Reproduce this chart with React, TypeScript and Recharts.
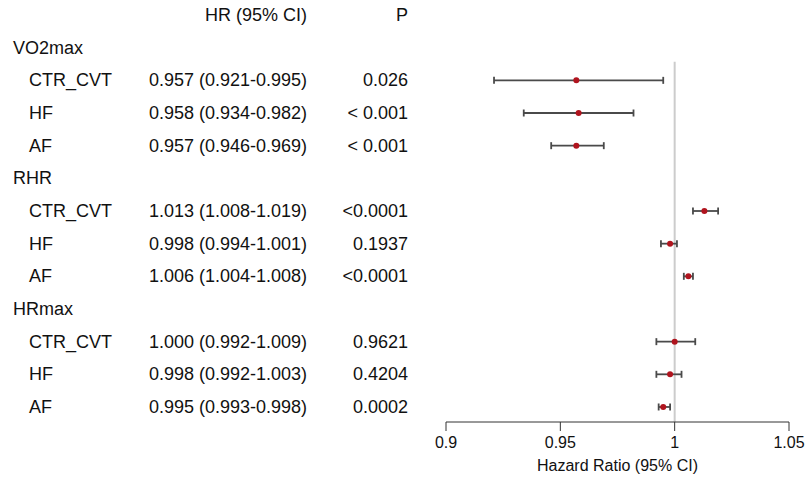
import React from "react"
import { ScatterChart, Scatter, XAxis, YAxis, ErrorBar, ReferenceLine } from "recharts"

const groups = ["VO2max", "RHR", "HRmax"]
const subgroups = ["CTR_CVT", "HF", "AF"]
const hrValues = [0.957, 0.958, 0.957, 1.013, 0.998, 1.006, 1.0, 0.998, 0.995]
const lowerCI = [0.921, 0.934, 0.946, 1.008, 0.994, 1.004, 0.992, 0.992, 0.993]
const upperCI = [0.995, 0.982, 0.969, 1.019, 1.001, 1.008, 1.009, 1.003, 0.998]
const pValues = ["0.026", "< 0.001", "< 0.001", "<0.0001", "0.1937", "<0.0001", "0.9621", "0.4204", "0.0002"]
const xTicks = [0.9, 0.95, 1, 1.05]

const FONT = "'Liberation Sans', Arial, sans-serif"

type Row = { row: number; label: string; indent: boolean; hrText: string; p: string }

// header row first, then each group followed by its three subgroups
const rows: Row[] = [{ row: 0, label: "", indent: false, hrText: "HR (95% CI)", p: "P" }]
const points: { row: number; hr: number; err: [number, number] }[] = []
groups.forEach((g, gi) => {
  rows.push({ row: rows.length, label: g, indent: false, hrText: "", p: "" })
  subgroups.forEach((s, si) => {
    const i = gi * 3 + si
    const r = rows.length
    rows.push({
      row: r,
      label: s,
      indent: true,
      hrText: `${hrValues[i].toFixed(3)} (${lowerCI[i].toFixed(3)}-${upperCI[i].toFixed(3)})`,
      p: pValues[i],
    })
    points.push({ row: r, hr: hrValues[i], err: [hrValues[i] - lowerCI[i], upperCI[i] - hrValues[i]] })
  })
})

const rowTick = (props: any) => {
  const { y, payload } = props
  const r = rows[payload.value]
  if (!r) return <g />
  const common = { y, dominantBaseline: "central", fontSize: 18, fontFamily: FONT, fill: "#111" } as any
  return (
    <g>
      {r.label && (
        <text {...common} x={r.indent ? 29 : 13} textAnchor="start">
          {r.label}
        </text>
      )}
      {r.hrText && (
        <text {...common} x={307} textAnchor="end">
          {r.hrText}
        </text>
      )}
      {r.p && (
        <text {...common} x={408} textAnchor="end">
          {r.p}
        </text>
      )}
    </g>
  )
}

export default function App() {
  return (
    <div style={{ position: "absolute", left: 0, top: 0, width: 810, height: 477, background: "#fff" }}>
      <ScatterChart width={810} height={477} margin={{ top: 0, right: 21, bottom: 0, left: 0 }}>
        <XAxis
          type="number"
          dataKey="hr"
          domain={[0.9, 1.05]}
          ticks={xTicks}
          allowDataOverflow
          height={55}
          tickSize={9}
          tickMargin={6}
          stroke="#333"
          tick={{ fontSize: 16, fontFamily: FONT, fill: "#111" }}
          tickFormatter={(v: number) => String(v)}
          label={{ value: "Hazard Ratio (95% CI)", position: "insideBottom", offset: 6, fontSize: 16, fontFamily: FONT, fill: "#111" }}
        />
        <YAxis
          type="number"
          dataKey="row"
          domain={[-0.46, 12.46]}
          ticks={rows.map((r) => r.row)}
          reversed
          allowDataOverflow
          width={446}
          axisLine={false}
          tickLine={false}
          tick={rowTick}
          interval={0}
        />
        <ReferenceLine
          segment={[
            { x: 1, y: 1.43 },
            { x: 1, y: 12.46 },
          ]}
          stroke="#cccccc"
          strokeWidth={2}
        />
        <Scatter
          data={points}
          isAnimationActive={false}
          shape={(p: any) => <circle cx={p.cx} cy={p.cy} r={3} fill="#b0141e" />}
        >
          <ErrorBar dataKey="err" direction="x" width={3.5} stroke="#4a4a4a" strokeWidth={1.8} />
        </Scatter>
      </ScatterChart>
    </div>
  )
}
